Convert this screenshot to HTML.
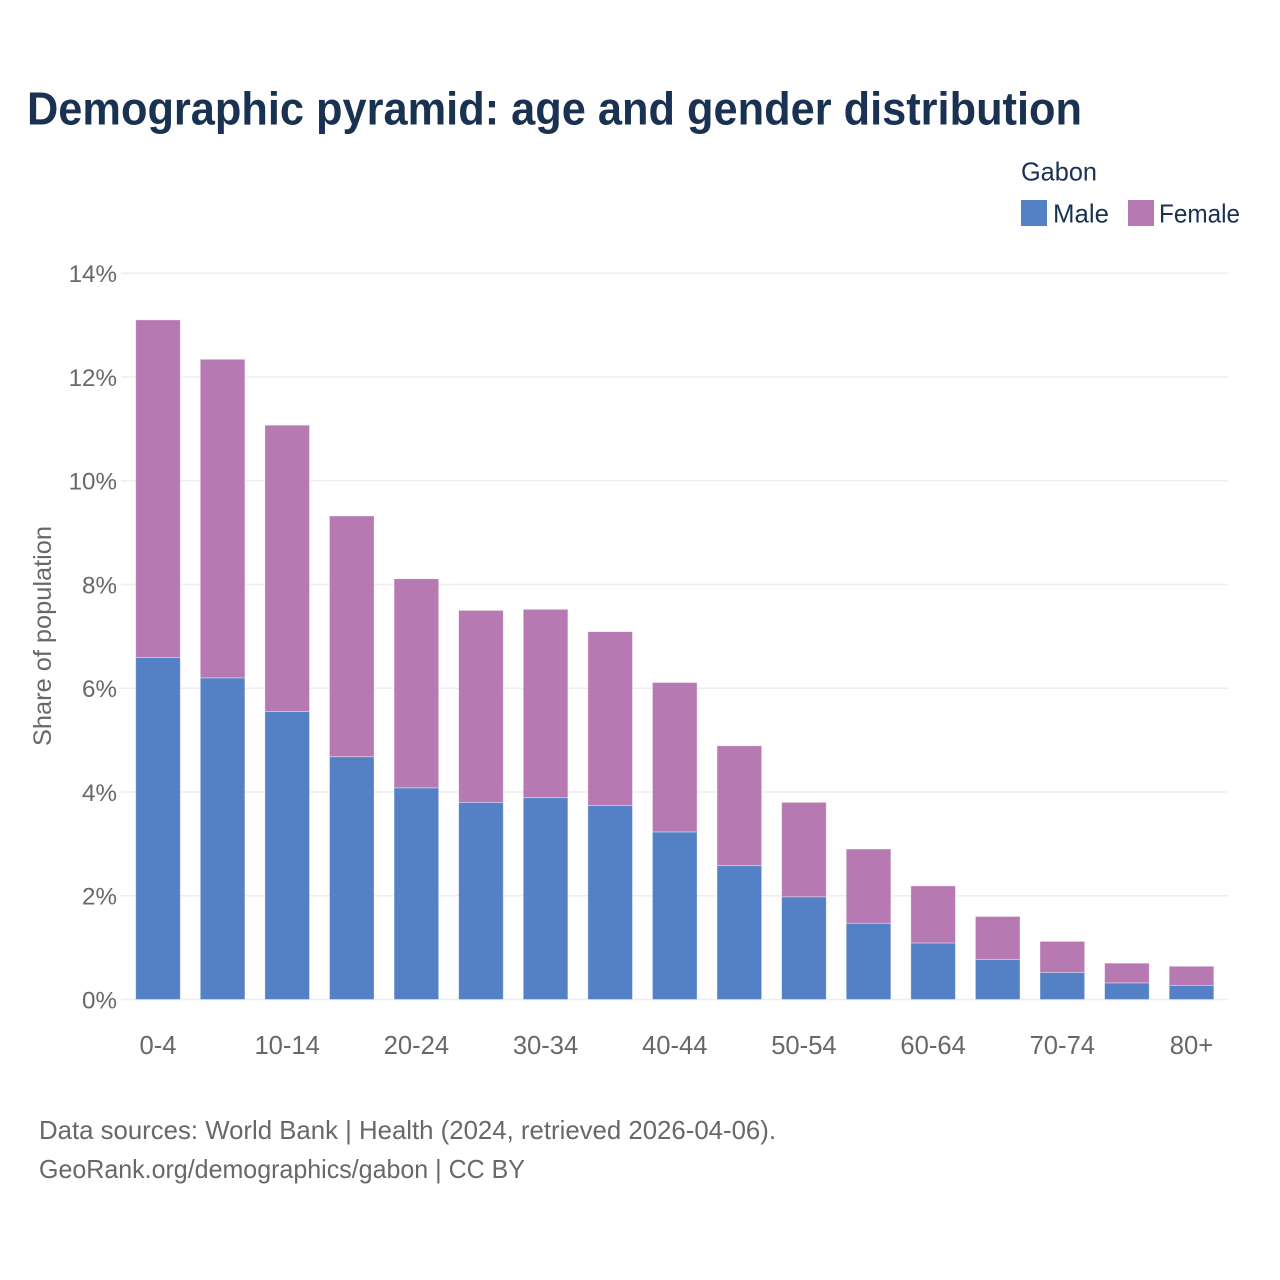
<!DOCTYPE html>
<html lang="en">
<head>
<meta charset="utf-8">
<title>Demographic pyramid: Gabon</title>
<style>
html,body{margin:0;padding:0;background:#fff;}
svg{display:block;font-family:"Liberation Sans",sans-serif;}
</style>
</head>
<body>
<svg id="chart" xmlns="http://www.w3.org/2000/svg" width="1280" height="1280" viewBox="0 0 1280 1280">
  <rect width="1280" height="1280" fill="#ffffff"/>
  <text x="27" y="124.5" font-size="46" font-weight="700" fill="#1a3252" textLength="1055" lengthAdjust="spacingAndGlyphs">Demographic pyramid: age and gender distribution</text>
  <text x="1021" y="180.5" font-size="26" fill="#1a3252" textLength="76" lengthAdjust="spacingAndGlyphs">Gabon</text>
  <rect x="1021" y="200" width="26" height="26" fill="#5481c5"/>
  <text x="1053" y="222.5" font-size="26" fill="#1a3252" textLength="56" lengthAdjust="spacingAndGlyphs">Male</text>
  <rect x="1128" y="200" width="26" height="26" fill="#b679b2"/>
  <text x="1159" y="222.5" font-size="26" fill="#1a3252" textLength="81" lengthAdjust="spacingAndGlyphs">Female</text>
  <g id="grid"></g>
  <g id="bars"></g>
  <g id="yticks"></g>
  <g id="xticks"></g>
  <text transform="translate(51 636) rotate(-90)" text-anchor="middle" font-size="25" fill="#68686b" textLength="220" lengthAdjust="spacingAndGlyphs">Share of population</text>
  <text x="39" y="1139" font-size="26" fill="#68686b" textLength="737" lengthAdjust="spacingAndGlyphs">Data sources: World Bank | Health (2024, retrieved 2026-04-06).</text>
  <text x="39" y="1178" font-size="26" fill="#68686b" textLength="486" lengthAdjust="spacingAndGlyphs">GeoRank.org/demographics/gabon | CC BY</text>
</svg>
<script>
const categories = ["0-4","5-9","10-14","15-19","20-24","25-29","30-34","35-39","40-44","45-49","50-54","55-59","60-64","65-69","70-74","75-79","80+"];
const maleValues = [6.59,6.2,5.55,4.68,4.08,3.8,3.89,3.74,3.23,2.58,1.98,1.47,1.09,0.77,0.52,0.32,0.27];
const femaleValues = [6.51,6.14,5.52,4.64,4.03,3.7,3.63,3.35,2.88,2.31,1.82,1.43,1.1,0.83,0.6,0.38,0.37];
const yTickValues = [0,2,4,6,8,10,12,14];
const xTickLabels = ["0-4","10-14","20-24","30-34","40-44","50-54","60-64","70-74","80+"];

const NS = 'http://www.w3.org/2000/svg';
const plotLeft = 125.7, plotRight = 1223.8, yBase = 999.5, yTop = 273.2, yMax = 14;
const step = (plotRight - plotLeft) / categories.length;
const barWidth = 44.6;
const xScale = i => plotLeft + step * (i + 0.5);
const yScale = v => yBase - (v / yMax) * (yBase - yTop);

function make(tag, parent, attrs) {
  const el = document.createElementNS(NS, tag);
  for (const k in attrs) el.setAttribute(k, attrs[k]);
  parent.appendChild(el);
  return el;
}

const grid = document.getElementById('grid');
const yticks = document.getElementById('yticks');
yTickValues.forEach(v => {
  const line = make('line', grid, {x1: 121, x2: 1228, y1: yScale(v), y2: yScale(v), stroke: '#eeeeef', 'stroke-width': 1.5});
  
  
  const t = make('text', yticks, {x: 117, y: yScale(v) + 9, 'text-anchor': 'end', 'font-size': 24.2, fill: '#68686b'});
  t.textContent = v + '%';
  
  
});

const bars = document.getElementById('bars');
categories.forEach((c, i) => {
  const m = maleValues[i], f = femaleValues[i];
  const x = xScale(i) - barWidth / 2;
  const rm = make('rect', bars, {x: x, y: yScale(m), width: barWidth, height: yScale(0) - yScale(m), fill: '#5481c5', stroke: '#ffffff', 'stroke-opacity': 0.45, 'stroke-width': 0.8});
  
  
  const rf = make('rect', bars, {x: x, y: yScale(m + f), width: barWidth, height: yScale(m) - yScale(m + f), fill: '#b679b2', stroke: '#ffffff', 'stroke-opacity': 0.45, 'stroke-width': 0.8});
  
  
});

const xticks = document.getElementById('xticks');
xTickLabels.forEach(label => {
  const i = categories.indexOf(label);
  const t = make('text', xticks, {x: xScale(i), y: 1054, 'text-anchor': 'middle', 'font-size': 25.6, fill: '#68686b'});
  t.textContent = label;
  
  
});
</script>
</body>
</html>
